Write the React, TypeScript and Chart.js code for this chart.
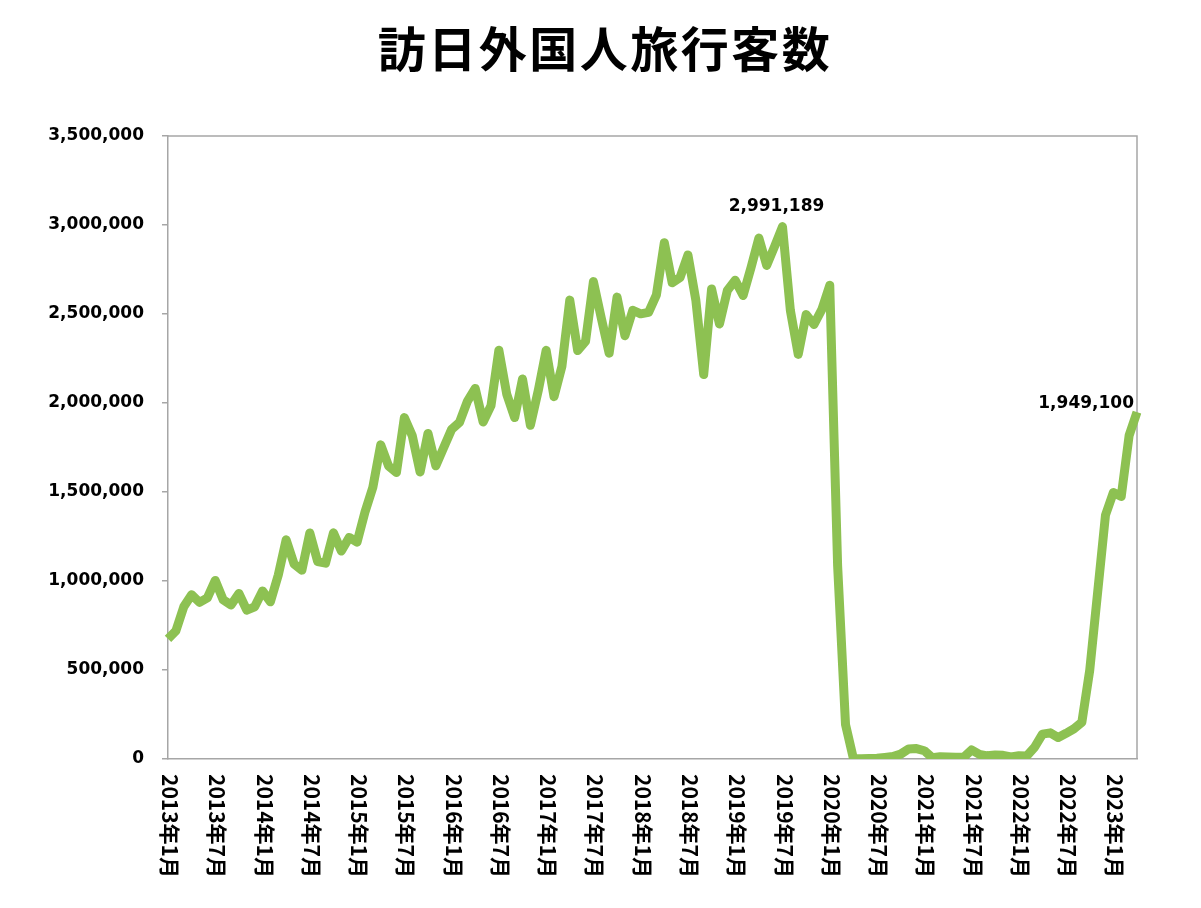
import React, { useEffect, useRef } from 'react';
import { Chart, registerables } from 'chart.js';

Chart.register(...registerables);

const TITLE = '訪日外国人旅行客数';
const START_YEAR = 2013;

// Monthly visitor arrivals
const v2013 = [675000, 720000, 855000, 923017, 880000, 905000, 1003032, 895000, 865000, 930000, 836000, 855000];
const v2014 = [943727, 883000, 1034000, 1231471, 1096000, 1061000, 1270000, 1109000, 1100000, 1271000, 1168000, 1245000];
const v2015 = [1218000, 1387000, 1526000, 1765000, 1646000, 1610000, 1918000, 1817000, 1612000, 1829000, 1647000, 1750000];
const v2016 = [1851895, 1891375, 2009549, 2081697, 1893000, 1985000, 2296451, 2049000, 1918000, 2135000, 1875000, 2070000];
const v2017 = [2295700, 2035800, 2205700, 2578000, 2294700, 2346400, 2682000, 2477000, 2280000, 2595000, 2378000, 2521000];
const v2018 = [2501000, 2509000, 2607900, 2900700, 2675000, 2704600, 2832000, 2578000, 2159600, 2640600, 2443800, 2632000];
const v2019 = [2689339, 2604322, 2760136, 2926685, 2773091, 2880041, 2991189, 2520134, 2272883, 2496568, 2441274, 2526387];
const v2020 = [2661022, 1085147, 193658, 2917, 1663, 2565, 3782, 8658, 13684, 27386, 56673, 58673];
const v2021 = [46500, 7355, 12276, 10871, 10035, 9250, 51055, 25916, 17700, 22100, 20700, 12100];
const v2022 = [17766, 16719, 66100, 139500, 147000, 120400, 144500, 169900, 206500, 498600, 934500, 1370100];
const v2023 = [1497300, 1475300, 1817500, 1949100];

const values = [...v2013, ...v2014, ...v2015, ...v2016, ...v2017, ...v2018, ...v2019, ...v2020, ...v2021, ...v2022, ...v2023];

const categories = values.map((_, i) => `${START_YEAR + Math.floor(i / 12)}年${(i % 12) + 1}月`);
const TICK_EVERY = 6;
const Y_MIN = 0;
const Y_MAX = 3500000;
const Y_STEP = 500000;
const LABELED_POINTS = [78, 123];

const AXIS_COLOR = '#A6A6A6';
const LINE_COLOR = '#8DC152';

const W = 1201;
const H = 908;
const PLOT_LEFT = 168;
const PLOT_RIGHT = 1137;
const PLOT_TOP = 136;
const PLOT_BOTTOM = 759;

const frameAndLabels = {
  id: 'frameAndLabels',
  beforeDatasetsDraw(chart: any) {
    const { ctx, chartArea } = chart;
    ctx.save();
    ctx.strokeStyle = AXIS_COLOR;
    ctx.lineWidth = 1.5;
    ctx.beginPath();
    ctx.moveTo(chartArea.left, chartArea.top);
    ctx.lineTo(chartArea.right, chartArea.top);
    ctx.lineTo(chartArea.right, chartArea.bottom);
    ctx.stroke();
    ctx.restore();
  },
  afterDraw(chart: any) {
    const { ctx, chartArea } = chart;
    const xs = chart.scales.x;

    // Title
    ctx.save();
    ctx.fillStyle = '#000';
    ctx.font = 'bold 48px "Noto Sans CJK JP"';
    try {
      (ctx as any).letterSpacing = '2.5px';
    } catch (e) {}
    ctx.textAlign = 'center';
    ctx.textBaseline = 'middle';
    ctx.fillText(TITLE, 605, 49);
    ctx.restore();

    // Rotated category labels
    ctx.save();
    ctx.fillStyle = '#000';
    ctx.font = 'bold 21px "Noto Sans CJK JP"';
    ctx.textAlign = 'left';
    ctx.textBaseline = 'middle';
    categories.forEach((lab, i) => {
      if (i % TICK_EVERY !== 0) return;
      const px = xs.getPixelForValue(i);
      ctx.save();
      ctx.translate(px + 2, chartArea.bottom + 15);
      ctx.rotate(Math.PI / 2);
      ctx.fillText(lab, 0, 0);
      ctx.restore();
    });
    ctx.restore();

    // Data labels
    const meta = chart.getDatasetMeta(0);
    ctx.save();
    ctx.fillStyle = '#000';
    ctx.font = 'bold 17px "DejaVu Sans"';
    ctx.textBaseline = 'middle';
    LABELED_POINTS.forEach((idx, k) => {
      const pt = meta.data[idx];
      const txt = values[idx].toLocaleString('en-US');
      if (k === 0) {
        ctx.textAlign = 'center';
        ctx.fillText(txt, pt.x - 6, pt.y - 20);
      } else {
        ctx.textAlign = 'right';
        ctx.fillText(txt, pt.x - 3, pt.y - 8);
      }
    });
    ctx.restore();
  },
};

export default function App() {
  const ref = useRef<HTMLCanvasElement>(null);
  useEffect(() => {
    document.body.style.margin = '0';
    if (!ref.current) return;
    const chart = new Chart(ref.current, {
      type: 'line',
      data: {
        labels: categories,
        datasets: [
          {
            data: values,
            borderColor: LINE_COLOR,
            backgroundColor: LINE_COLOR,
            borderWidth: 9,
            pointRadius: 0,
            tension: 0,
            borderJoinStyle: 'round',
            fill: false,
          },
        ],
      },
      options: {
        responsive: false,
        animation: false,
        devicePixelRatio: 1,
        layout: { padding: { left: 0, right: W - PLOT_RIGHT, top: PLOT_TOP, bottom: 0 } },
        plugins: {
          legend: { display: false },
          tooltip: { enabled: false },
          title: { display: false },
        },
        scales: {
          x: {
            type: 'category',
            offset: false,
            ticks: { display: false },
            grid: { display: true, drawOnChartArea: false, drawTicks: false, color: AXIS_COLOR },
            border: { display: true, color: AXIS_COLOR, width: 1.5 },
            afterFit: (s: any) => {
              s.height = H - PLOT_BOTTOM;
            },
          },
          y: {
            min: Y_MIN,
            max: Y_MAX,
            ticks: {
              stepSize: Y_STEP,
              color: '#000',
              padding: 18,
              font: { family: '"DejaVu Sans"', size: 17, weight: 'bold' },
              callback: (v: any) => Number(v).toLocaleString('en-US'),
            },
            grid: { drawOnChartArea: false, drawTicks: true, tickLength: 6, color: AXIS_COLOR, lineWidth: 1.5 },
            border: { display: true, color: AXIS_COLOR, width: 1.5 },
            afterFit: (s: any) => {
              s.width = PLOT_LEFT;
            },
          },
        },
      },
      plugins: [frameAndLabels],
    });
    return () => chart.destroy();
  }, []);
  return <canvas ref={ref} width={W} height={H} style={{ display: 'block' }} />;
}
